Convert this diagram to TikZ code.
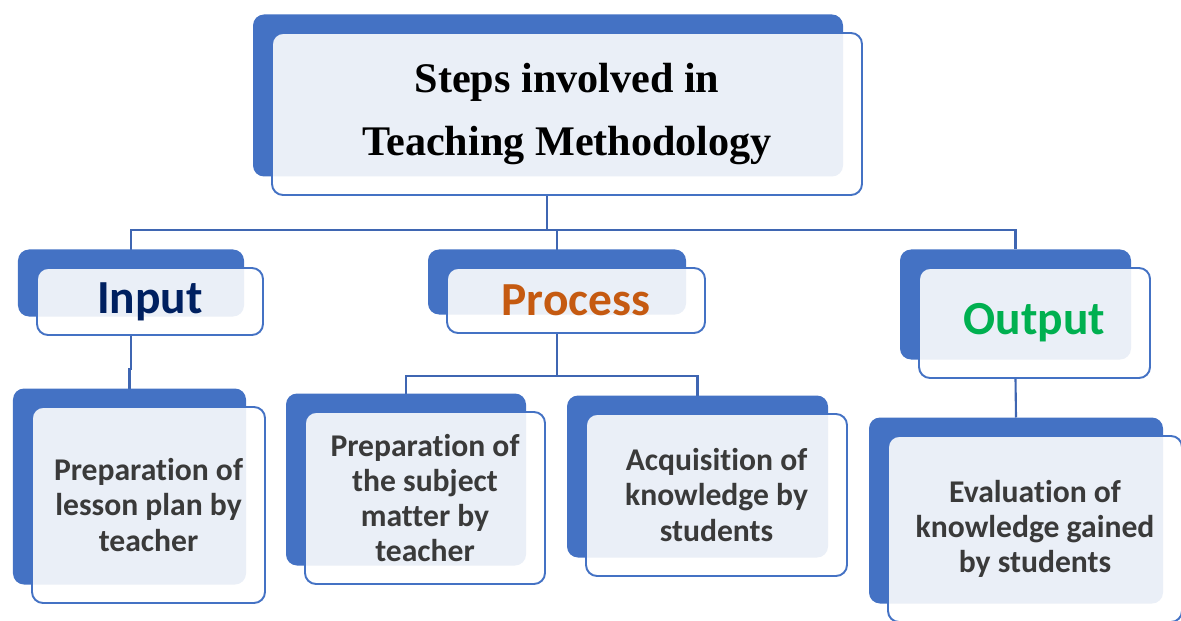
\documentclass[tikz,border=0pt]{standalone}
\usepackage{fontspec}
\setmainfont{Liberation Serif}
\newfontfamily\carlito[Ligatures=NoCommon]{Carlito}
\definecolor{backblue}{HTML}{4472C4}
\definecolor{paleblue}{HTML}{EAEFF7}
\definecolor{linkblue}{HTML}{3F66B2}
\definecolor{bodygray}{HTML}{3A3A3A}
\definecolor{inputnavy}{HTML}{002060}
\definecolor{processorange}{HTML}{C55A11}
\definecolor{outputgreen}{HTML}{00B050}
\tikzset{
  block/.style={draw=backblue, line width=1.1pt, fill=white, rounded corners=0.22cm,
    align=center, inner sep=0pt,
    preaction={fill=backblue, transform canvas={shift={(-0.38cm,0.37cm)}}},
    path picture={\fill[paleblue, rounded corners=0.22cm]
      ([shift={(-0.38cm,0.37cm)}]path picture bounding box.north west) rectangle
      ([shift={(-0.38cm,0.37cm)}]path picture bounding box.south east);}},
  headtext/.style={font=\carlito\bfseries\fontsize{27}{32}\selectfont},
  bodytext/.style={font=\carlito\bfseries\fontsize{18}{20}\selectfont, text=bodygray},
  link/.style={draw=linkblue, line width=1.2pt},
}
\begin{document}
\begin{tikzpicture}
  \useasboundingbox (0,0) rectangle (23.62,-12.42);
  % connectors first, boxes on top
  \coordinate (hub) at (10.94,-4.60);
  \coordinate (inputtop) at (2.62,-5.00);
  \coordinate (processtop) at (11.14,-5.00);
  \coordinate (outputtop) at (20.31,-4.99);
  \draw[link] (10.94,-3.88) -- (hub);
  \draw[link] (inputtop) |- (hub) -| (outputtop);
  \draw[link] (hub -| processtop) -- (processtop);
  % heading
  \node[block, minimum width=11.8cm, minimum height=3.24cm,
        font=\bfseries\fontsize{24}{36}\selectfont] (title) at (11.34,-2.28)
        {Steps involved in\\Teaching Methodology};
  % three stages
  \node[block, headtext, text=inputnavy, minimum width=4.52cm, minimum height=1.34cm]
        (input) at (3.0,-6.03) {Input};
  \node[block, headtext, text=processorange, minimum width=5.16cm, minimum height=1.30cm]
        (process) at (11.52,-6.01) {Process};
  \node[block, headtext, text=outputgreen, minimum width=4.62cm, minimum height=2.2cm]
        (output) at (20.69,-6.46) {\raisebox{-0.04cm}{Output}};
  % steps
  \coordinate (lessontop) at (2.59,-7.77);
  \coordinate (subjecttop) at (8.12,-7.87);
  \coordinate (acqtop) at (13.95,-7.91);
  \coordinate (evaltop) at (20.32,-8.35);
  \draw[link] ([xshift=-0.38cm]input.south) -- ++(0,-0.66) -| (lessontop);
  \draw[link] ([xshift=-0.38cm]process.south) -- ++(0,-0.84) coordinate (fork);
  \draw[link] (subjecttop) |- (fork) -| (acqtop);
  \draw[link] ([xshift=-0.38cm]output.south) -- (evaltop);
  \node[block, bodytext, minimum width=4.66cm, minimum height=3.92cm]
        (lesson) at (2.97,-10.10) {Preparation of\\lesson plan by\\teacher};
  \node[block, bodytext, minimum width=4.8cm, minimum height=3.44cm]
        (subject) at (8.5,-9.96) {Preparation of\\the subject\\matter by\\teacher};
  \node[block, bodytext, minimum width=5.22cm, minimum height=3.24cm]
        (acq) at (14.33,-9.9) {Acquisition of\\knowledge by\\students};
  \node[block, bodytext, minimum width=5.88cm, minimum height=3.72cm]
        (eval) at (20.70,-10.58) {Evaluation of\\knowledge gained\\by students};
\end{tikzpicture}
\end{document}
